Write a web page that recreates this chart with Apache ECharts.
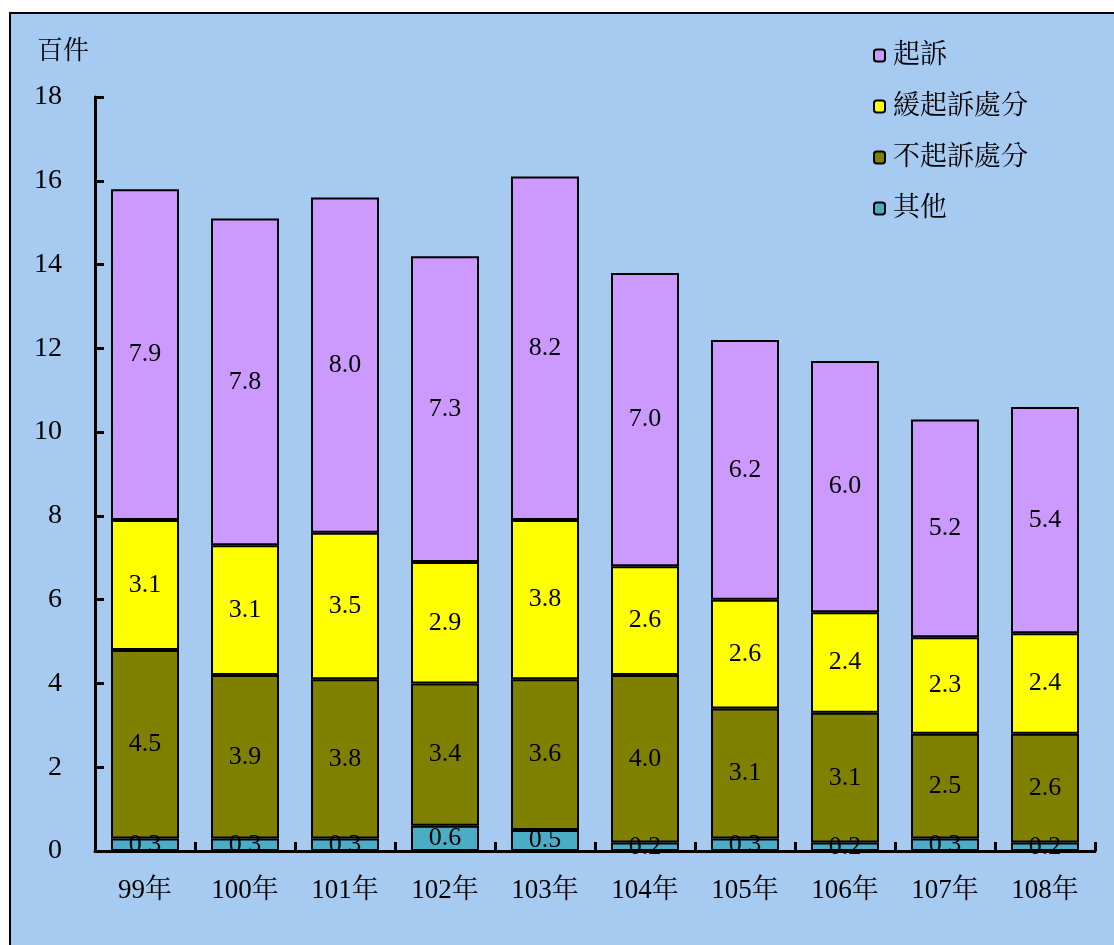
<!DOCTYPE html>
<html><head><meta charset="utf-8">
<script src="https://cdn.jsdelivr.net/npm/echarts@6/dist/echarts.min.js"></script>
<style>
html,body{margin:0;padding:0;background:#fff;}
#frame{position:absolute;left:9px;top:12px;width:1114px;height:945px;background:#A6CAF0;border-left:2px solid #000;border-top:2px solid #000;box-sizing:border-box;}
#c{position:absolute;left:0;top:0;width:1114px;height:945px;}
</style></head><body>
<div id="frame"></div>
<div id="c"></div>
<script>
const categories = ['99年','100年','101年','102年','103年','104年','105年','106年','107年','108年'];
const other = [0.3,0.3,0.3,0.6,0.5,0.2,0.3,0.2,0.3,0.2];
const nonProsecution = [4.5,3.9,3.8,3.4,3.6,4.0,3.1,3.1,2.5,2.6];
const deferred = [3.1,3.1,3.5,2.9,3.8,2.6,2.6,2.4,2.3,2.4];
const prosecution = [7.9,7.8,8.0,7.3,8.2,7.0,6.2,6.0,5.2,5.4];

const serif = "'Liberation Serif','Noto Serif CJK TC','Noto Sans CJK TC',serif";
const lbl = {show:true, position:'inside', color:'#000', fontFamily:serif, fontSize:26, formatter:p=>p.value.toFixed(1)};
function s(name, data, color){
  return {name, type:'bar', stack:'a', data, barWidth:68,
    itemStyle:{color, borderColor:'#000', borderWidth:2}, label:lbl};
}
const chart = echarts.init(document.getElementById('c'));
chart.setOption({
  backgroundColor:'transparent',
  animation:false,
  grid:{left:95, right:19, top:97, bottom:94},
  legend:{
    orient:'vertical', left:868, top:37, itemGap:24, itemWidth:11, itemHeight:12,
    data:['起訴','緩起訴處分','不起訴處分','其他'],
    textStyle:{fontFamily:serif, fontSize:27, color:'#000', padding:[0,0,0,3]},
    itemStyle:{borderColor:'#000', borderWidth:2}
  },
  xAxis:{type:'category', data:categories,
    axisLine:{lineStyle:{color:'#000', width:3}},
    axisTick:{show:true, inside:true, length:9, lineStyle:{color:'#000', width:3}},
    axisLabel:{fontFamily:serif, fontSize:27, color:'#000', margin:26}
  },
  yAxis:{type:'value', min:0, max:18, interval:2, name:'百件',
    nameLocation:'end', nameGap:32,
    nameTextStyle:{fontFamily:serif, fontSize:26, color:'#000', align:'right', padding:[0,6,0,0]},
    axisLine:{show:true, lineStyle:{color:'#000', width:3}},
    axisTick:{show:true, inside:true, length:9, lineStyle:{color:'#000', width:3}},
    splitLine:{show:false},
    axisLabel:{fontFamily:serif, fontSize:28, color:'#000', margin:33}
  },
  series:[
    s('其他', other, '#4BACC6'),
    s('不起訴處分', nonProsecution, '#808000'),
    s('緩起訴處分', deferred, '#FFFF00'),
    s('起訴', prosecution, '#CC99FF')
  ]
});
</script></body></html>
